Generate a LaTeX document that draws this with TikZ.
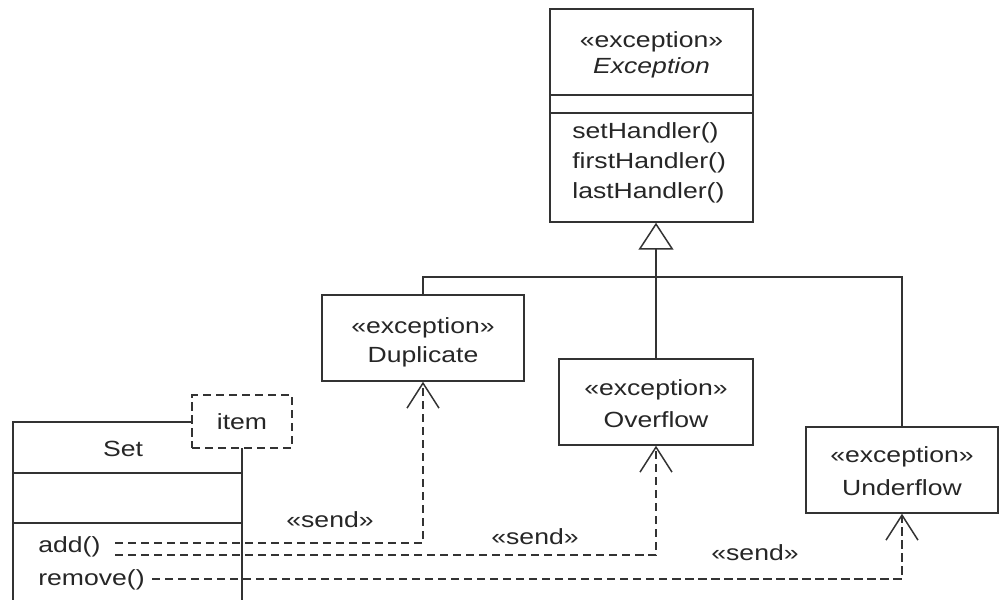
\documentclass[tikz,border=0pt]{standalone}
\usepackage{fontspec}
\setmainfont{Liberation Sans}[FakeStretch=1.21]
\usetikzlibrary{arrows.meta}
\begin{document}
\begin{tikzpicture}[x=0.02cm,y=-0.02cm,
  ln/.style={draw=black!80,line width=0.85pt},
  box/.style={ln,rectangle,inner sep=0pt,fill=white},
  txt/.style={inner sep=0pt,font=\fontsize{12.5pt}{17pt}\selectfont,text=black!85},
  ltxt/.style={txt,anchor=west},
  dep/.style={ln,dash pattern=on 4.8pt off 2.6pt,-{Straight Barb[length=0.5cm,width=0.64cm,line width=0.85pt]}},
  gen/.style={ln,-{Triangle[open,length=0.54cm,width=0.7cm,fill=white,line width=0.85pt]}}
]
\useasboundingbox (0,0) rectangle (1000,599);
% Exception class
\node[box,minimum width=4.06cm,minimum height=4.26cm] (exc) at (651.5,115.5) {};
\draw[ln] (550,95) -- (753,95) (550,113) -- (753,113);
\node[txt] (excst) at (651.5,42) {«exception»};
\node[txt] (excnm) at (651.5,68) {\itshape Exception};
\node[ltxt] (m1) at (572,133) {setHandler()};
\node[ltxt] (m2) at (572,163) {firstHandler()};
\node[ltxt] (m3) at (572,193) {lastHandler()};
% subclasses
\node[box,minimum width=4.04cm,minimum height=1.72cm] (dup) at (423,338) {};
\node[txt] (dupst) at (423,328) {«exception»};
\node[txt] (dupnm) at (423,357) {Duplicate};
\node[box,minimum width=3.88cm,minimum height=1.72cm] (ovf) at (656,402) {};
\node[txt] (ovfst) at (656,390) {«exception»};
\node[txt] (ovfnm) at (656,420) {Overflow};
\node[box,minimum width=3.84cm,minimum height=1.72cm] (und) at (902,470) {};
\node[txt] (undst) at (902,457) {«exception»};
\node[txt] (undnm) at (902,488) {Underflow};
% generalization tree
\coordinate (j) at (656,277);
\draw[ln] (dup.north) |- (j) -| (und.north);
\draw[gen] (ovf.north) -- (exc.south -| ovf.north);
% Set class
\draw[ln] (192,422) -- (13,422) -- (13,610);
\draw[ln] (242,448) -- (242,610);
\draw[ln] (13,473) -- (242,473) (13,523) -- (242,523);
\node[txt] (setnm) at (123,449) {Set};
\node[draw=black!80,line width=0.85pt,dash pattern=on 4.8pt off 2.6pt,inner sep=0pt,minimum width=2cm,minimum height=1.06cm,fill=white] (item) at (242,421.5) {};
\node[txt] (itemt) at (242,422) {item};
\node[ltxt] (add) at (38,547) {add()};
\node[ltxt] (rem) at (38,580) {remove()};
% dependencies
\coordinate (a1) at (115,543);
\coordinate (a2) at (115,555);
\coordinate (r1) at (152,579);
\draw[dep] (a1) -| (dup.south);
\draw[dep] (a2) -| (ovf.south);
\draw[dep] (r1) -| (und.south);
\node[txt] (s1) at (330,520) {«send»};
\node[txt] (s2) at (535,537) {«send»};
\node[txt] (s3) at (755,553) {«send»};
\end{tikzpicture}
\end{document}
